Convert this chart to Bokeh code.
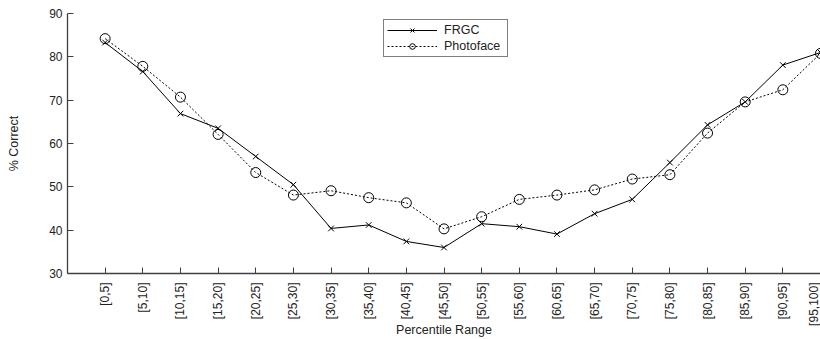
import math
from bokeh.plotting import figure
from bokeh.models import Range1d, FixedTicker, Legend, LegendItem, ColumnDataSource
from bokeh.embed import file_html
from bokeh.resources import INLINE

categories = ["[0,5]", "[5,10]", "[10,15]", "[15,20]", "[20,25]", "[25,30]", "[30,35]",
              "[35,40]", "[40,45]", "[45,50]", "[50,55]", "[55,60]", "[60,65]", "[65,70]",
              "[70,75]", "[75,80]", "[80,85]", "[85,90]", "[90,95]", "[95,100]"]
frgc = [83.3, 76.6, 66.9, 63.5, 57.0, 50.5, 40.4, 41.2, 37.4, 36.0,
        41.5, 40.8, 39.1, 43.8, 47.1, 55.6, 64.3, 69.6, 78.1, 81.0]
photoface = [84.2, 77.8, 70.7, 62.1, 53.3, 48.1, 49.1, 47.5, 46.3, 40.3,
             43.1, 47.1, 48.1, 49.3, 51.8, 52.8, 62.4, 69.6, 72.4, 80.8]
y_ticks = [30, 40, 50, 60, 70, 80, 90]

xs = list(range(len(categories)))
src = ColumnDataSource(data=dict(x=xs, frgc=frgc, photoface=photoface))

FONT = "Liberation Sans"
p = figure(width=820, height=339, output_backend="svg", toolbar_location=None,
           x_range=Range1d(-1, len(categories) - 1), y_range=Range1d(30, 90),
           min_border_left=67, min_border_right=0, min_border_top=13, min_border_bottom=66)
p.outline_line_color = None
p.grid.grid_line_color = None
p.background_fill_color = "white"
p.border_fill_color = "white"

l1 = p.line("x", "frgc", source=src, line_color="black", line_width=1)
m1 = p.scatter("x", "frgc", source=src, marker="x", size=8, line_color="black", line_width=1)
l2 = p.line("x", "photoface", source=src, line_color="black", line_width=1, line_dash="2 2")
m2 = p.scatter("x", "photoface", source=src, marker="circle", size=10, fill_color=None,
               line_color="black", line_width=1)

xa = p.xaxis[0]
xa.ticker = FixedTicker(ticks=xs)
xa.major_label_overrides = {i: c for i, c in enumerate(categories)}
xa.major_label_orientation = math.pi / 2
xa.axis_label = "Percentile Range"

ya = p.yaxis[0]
ya.ticker = FixedTicker(ticks=y_ticks)
ya.axis_label = "% Correct"

for ax in (xa, ya):
    ax.axis_line_color = "#404040"
    ax.axis_line_width = 1.3
    ax.major_tick_line_color = "#404040"
    ax.major_tick_in = 6
    ax.major_tick_out = 0
    ax.minor_tick_in = 0
    ax.minor_tick_out = 0
    ax.major_label_text_font = FONT
    ax.major_label_text_font_size = "12px"
    ax.major_label_text_color = "#222222"
    ax.axis_label_text_font = FONT
    ax.axis_label_text_font_size = "12.5px"
    ax.axis_label_text_font_style = "normal"
    ax.axis_label_text_color = "#222222"

xa.major_label_standoff = 9
xa.axis_label_standoff = -6
ya.major_label_standoff = 5
ya.axis_label_standoff = 25

legend = Legend(items=[LegendItem(label="FRGC", renderers=[l1, m1]),
                       LegendItem(label="Photoface", renderers=[l2, m2])],
                location=(316, 216))
legend.border_line_color = "black"
legend.border_line_width = 1
legend.background_fill_color = "white"
legend.background_fill_alpha = 1
legend.padding = 3
legend.spacing = 2
legend.margin = 0
legend.label_height = 14
legend.glyph_height = 14
legend.glyph_width = 50
legend.label_standoff = 7
legend.label_width = 60
legend.label_text_font = FONT
legend.label_text_font_size = "12.5px"
legend.label_text_color = "#222222"
p.add_layout(legend, "center")

open("out.html", "w").write(file_html(p, INLINE))
